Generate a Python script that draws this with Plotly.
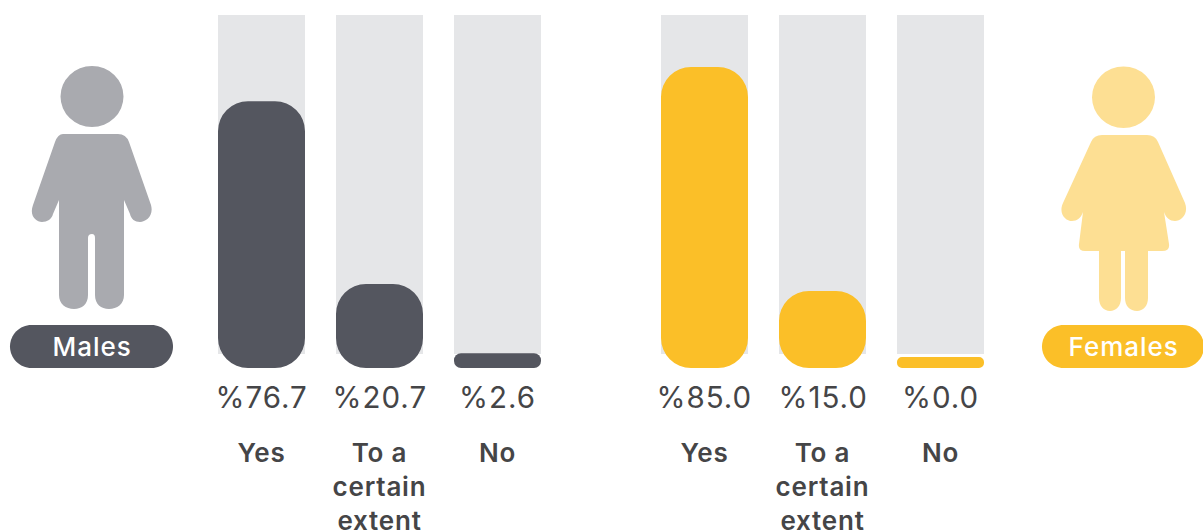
import plotly.graph_objects as go

W, H = 1203, 532
FONT = "Inter"

categories = ["Yes", "To a<br>certain<br>extent", "No"]
male_values = [76.7, 20.7, 2.6]
female_values = [85.0, 15.0, 0.0]
# bar lengths as drawn in the picture, as % of the full track
male_drawn = [75.6, 23.8, 4.2]
female_drawn = [85.3, 21.8, 3.1]
track_bottom = 4.0
track_top = 100.0

DARK, YELLOW, TRACK = "#54565f", "#fbbf28", "#e5e6e8"
MALE_FIG, FEMALE_FIG = "#a9aaaf", "#fddf93"
TXT = "#454547"
RADIUS = 30


def add_group(fig, xa, ya, drawn, color):
    fig.add_bar(x=categories, y=[track_top - track_bottom] * 3, base=[track_bottom] * 3,
                marker=dict(color=TRACK, line_width=0), xaxis=xa, yaxis=ya,
                hoverinfo="skip", showlegend=False)
    fig.add_bar(x=categories, y=drawn, base=[0.001] * 3,
                marker=dict(color=color, line_width=0, cornerradius=RADIUS), xaxis=xa, yaxis=ya,
                showlegend=False)


fig = go.Figure()
add_group(fig, "x", "y", male_drawn, DARK)
add_group(fig, "x2", "y2", female_drawn, YELLOW)

yd = [(H - 368) / H, (H - 15) / H]
xax = dict(type="category", showgrid=False, zeroline=False, showline=False, ticks="",
           tickfont=dict(family=FONT, size=26, color=TXT, weight=600),
           ticklabelstandoff=67, fixedrange=True, automargin=False, tickangle=0,
           categoryorder="array", categoryarray=categories)
yax = dict(range=[0, 100], visible=False, fixedrange=True, domain=yd)

fig.update_layout(
    width=W, height=H, margin=dict(l=0, r=0, t=0, b=0), autosize=False,
    paper_bgcolor="white", plot_bgcolor="rgba(0,0,0,0)",
    barmode="overlay", bargap=1 - 87 / 118,
    xaxis=dict(domain=[202.5 / W, 556.5 / W], anchor="y", **xax),
    yaxis=dict(anchor="x", **yax),
    xaxis2=dict(domain=[645.5 / W, 999.5 / W], anchor="y2", **xax),
    yaxis2=dict(anchor="x2", **yax),
    xaxis3=dict(domain=[0, 1], range=[0, W], visible=False, anchor="y3", fixedrange=True),
    yaxis3=dict(domain=[0, 1], range=[H, 0], visible=False, anchor="x3", fixedrange=True),
)

male_path = (
    "M63,134 L118,134 Q126,134 129,142 L151,205 C154,216 146,222 140,222 C135,222 131,219 130,214 "
    "L124,200 L124,295 C124,304 117,309 109,309 C101,309 95,304 95,295 L95,238 Q95,234 92,234 "
    "Q88,234 88,238 L88,295 C88,304 82,309 74,309 C66,309 59,304 59,295 L59,200 L53,214 "
    "C52,219 47,222 42,222 C36,222 29,216 33,205 L55,142 Q58,134 63,134 Z"
)
female_path = (
    "M1102,135 L1147,135 Q1155,135 1158,142 L1185,203 C1189,214 1181,221 1175,221 "
    "C1170,221 1166,218 1164,212 L1169,244 Q1170,251 1162,251 L1148,251 L1148,298 "
    "C1148,306 1143,311 1137,311 C1130,311 1125,306 1125,298 L1125,251 L1121,251 L1121,298 "
    "C1121,306 1116,311 1110,311 C1104,311 1099,306 1099,298 L1099,251 L1085,251 "
    "Q1078,251 1079,244 L1083,212 C1081,218 1077,221 1072,221 C1066,221 1058,214 1063,203 "
    "L1091,142 Q1094,135 1102,135 Z"
)


def pill(x0, x1, y0, y1):
    r = (y1 - y0) / 2
    k = r * 0.448
    return (f"M{x0+r},{y0} L{x1-r},{y0} C{x1-k},{y0} {x1},{y0+k} {x1},{y0+r} "
            f"C{x1},{y1-k} {x1-k},{y1} {x1-r},{y1} L{x0+r},{y1} "
            f"C{x0+k},{y1} {x0},{y1-k} {x0},{y0+r} C{x0},{y0+k} {x0+k},{y0} {x0+r},{y0} Z")


base = dict(xref="x3", yref="y3", line_width=0, layer="above")
fig.update_layout(shapes=[
    dict(type="circle", x0=60.5, x1=123.5, y0=66, y1=127, fillcolor=MALE_FIG, **base),
    dict(type="path", path=male_path, fillcolor=MALE_FIG, **base),
    dict(type="circle", x0=1092, x1=1155, y0=66.5, y1=128, fillcolor=FEMALE_FIG, **base),
    dict(type="path", path=female_path, fillcolor=FEMALE_FIG, **base),
    dict(type="path", path=pill(10, 173, 325, 368), fillcolor=DARK, **base),
    dict(type="path", path=pill(1042, 1204, 325, 368), fillcolor=YELLOW, **base),
])

ann = []
for xr, vals in (("x", male_values), ("x2", female_values)):
    for i, v in enumerate(vals):
        ann.append(dict(x=categories[i], xref=xr, y=396.5, yref="y3", text=f"%{v:.1f}", showarrow=False,
                        font=dict(family=FONT, size=29.5, color=TXT, weight=400)))
for label, cx in (("Males", 92), ("Females", 1123)):
    ann.append(dict(x=cx, xref="x3", y=346.5, yref="y3", text=label, showarrow=False,
                    font=dict(family=FONT, size=26, color="white", weight=500)))
fig.update_layout(annotations=ann)

css = ("var s=document.createElement('style');"
       "s.textContent='.xtick text,.x2tick text{letter-spacing:0.8px}"
       ".annotation-text{letter-spacing:1px}';"
       "document.head.appendChild(s);document.body.style.margin='0';")
fig.write_html("out.html", config=dict(displayModeBar=False), post_script=css)
